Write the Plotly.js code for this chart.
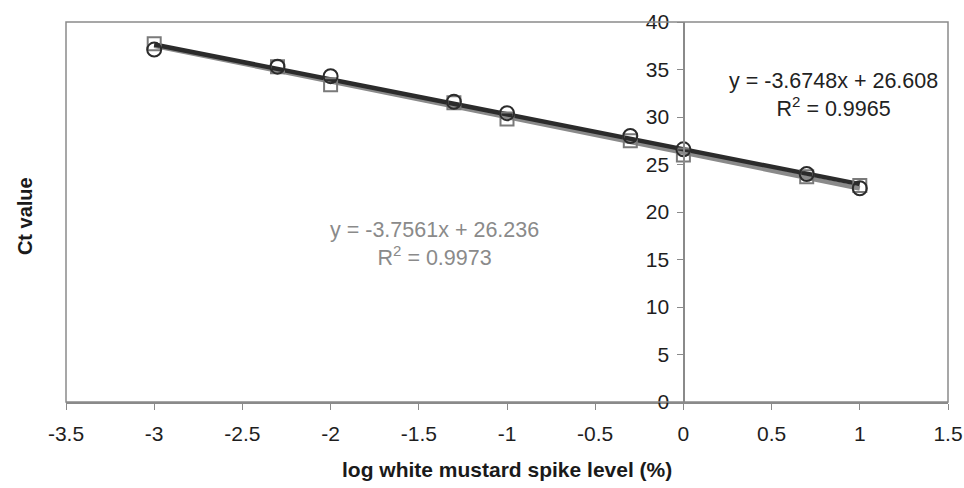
<!DOCTYPE html>
<html>
<head>
<meta charset="utf-8">
<script src="https://cdn.plot.ly/plotly-3.0.1.min.js"></script>
<style>html,body{margin:0;padding:0;background:#fff;}#chart{width:964px;height:488px;}</style>
</head>
<body>
<div id="chart"></div>
<script>
// log spike level (%)
const xVals = [-3, -2.301, -2, -1.301, -1, -0.301, 0, 0.699, 1];
// series drawn with open circles (dark)
const circleCt = [37.1, 35.3, 34.3, 31.6, 30.4, 28.0, 26.6, 24.0, 22.5];
// series drawn with open squares (gray)
const squareCt = [37.7, 35.3, 33.4, 31.5, 29.8, 27.5, 26.0, 23.7, 22.8];
// trendline coefficients [slope, intercept]
const darkFit = [-3.6748, 26.608];
const grayFit = [-3.7561, 26.236];
const fitRange = [-3, 1];
const darkLabel = ["y = -3.6748x + 26.608", "R<sup>2</sup> = 0.9965"];
const grayLabel = ["y = -3.7561x + 26.236", "R<sup>2</sup> = 0.9973"];
const xTicks = [-3.5, -3, -2.5, -2, -1.5, -1, -0.5, 0, 0.5, 1, 1.5];
const xTickText = ["-3.5", "-3", "-2.5", "-2", "-1.5", "-1", "-0.5", "0", "0.5", "1", "1.5"];
const yTicks = [0, 5, 10, 15, 20, 25, 30, 35, 40];

const line = (f) => fitRange.map(x => f[0] * x + f[1]);

const FAM = 'Liberation Sans, Arial, sans-serif';

const traces = [
  {x: fitRange, y: line(grayFit), mode: 'lines', line: {color: '#8a8a8a', width: 4.5}, hoverinfo: 'skip'},
  {x: fitRange, y: line(darkFit), mode: 'lines', line: {color: '#2b2b2b', width: 4.5}, hoverinfo: 'skip'},
  {x: xVals, y: squareCt, mode: 'markers', marker: {symbol: 'square-open', size: 13, color: '#7a7a7a', line: {width: 2, color: '#7a7a7a'}}},
  {x: xVals, y: circleCt, mode: 'markers', marker: {symbol: 'circle-open', size: 14, color: '#2b2b2b', line: {width: 2, color: '#2b2b2b'}}}
];

const tickFont = {family: FAM, size: 21, color: '#1e1e1e'};

const layout = {
  width: 964, height: 488,
  margin: {l: 66, r: 16, t: 22, b: 86},
  paper_bgcolor: '#fff', plot_bgcolor: '#fff',
  showlegend: false,
  font: {family: FAM, size: 21, color: '#1e1e1e'},
  xaxis: {
    range: [-3.5, 1.5], tickvals: xTicks, ticktext: xTickText,
    showgrid: false, zeroline: false, showline: true, linecolor: '#8a8a8a', linewidth: 1.5,
    ticks: 'outside', ticklen: 6, tickcolor: '#8a8a8a', tickfont: tickFont, ticklabelstandoff: 6
  },
  yaxis: {
    range: [0, 40], tickvals: yTicks, anchor: 'free', position: 0.7,
    showgrid: false, zeroline: false, showline: true, linecolor: '#8a8a8a', linewidth: 1.5,
    ticks: 'outside', ticklen: 6, tickcolor: '#8a8a8a', tickfont: tickFont, ticklabelstandoff: 4
  },
  shapes: [
    {type: 'rect', xref: 'paper', yref: 'paper', x0: 0, x1: 1, y0: 0, y1: 1, line: {color: '#8a8a8a', width: 1.5}}
  ],
  annotations: [
    {xref: 'paper', yref: 'paper', x: -0.062, y: 0.49, text: '<b>Ct value</b>', textangle: -90, showarrow: false,
     font: {family: FAM, size: 20, color: '#1a1a1a'}},
    {xref: 'paper', yref: 'paper', x: 0.50, y: -0.178, yanchor: 'middle', text: '<b>log white mustard spike level (%)</b>', showarrow: false,
     font: {family: FAM, size: 21, color: '#1a1a1a'}},
    {xref: 'x', yref: 'y', x: 0.85, y: 32.3, text: darkLabel.join('<br>'), showarrow: false, align: 'center',
     font: {family: FAM, size: 21.5, color: '#222'}},
    {xref: 'x', yref: 'y', x: -1.41, y: 16.6, text: grayLabel.join('<br>'), showarrow: false, align: 'center',
     font: {family: FAM, size: 21.5, color: '#8a8a8a'}}
  ]
};

Plotly.newPlot('chart', traces, layout, {displayModeBar: false, staticPlot: true});
</script>
</body>
</html>
